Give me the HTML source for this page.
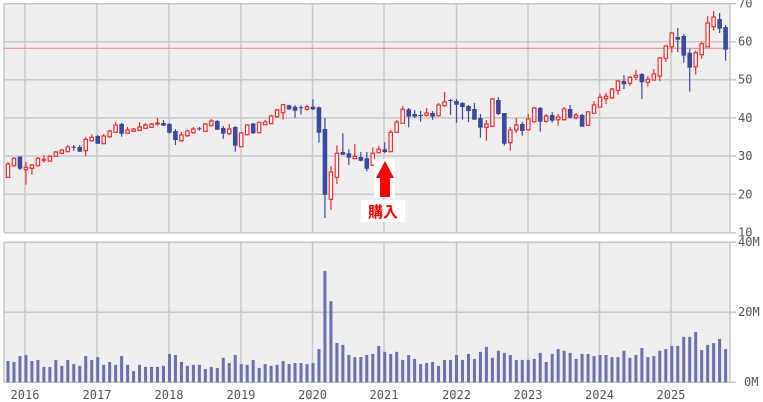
<!DOCTYPE html>
<html><head><meta charset="utf-8"><style>
html,body{margin:0;padding:0;background:#fff;width:763px;height:402px;overflow:hidden}
svg{display:block}
text{font-family:"DejaVu Sans Mono","Liberation Mono",monospace;font-size:12px;fill:#555}
</style></head><body>
<svg id="c" width="763" height="402" xmlns="http://www.w3.org/2000/svg">
<rect x="4" y="3.7" width="726" height="229" fill="#efefef"/>
<rect x="4" y="242.3" width="726" height="140" fill="#efefef"/>
<g id="grid" stroke="#c8c8c8" stroke-width="1.5" fill="none"></g>
<line x1="4" y1="48.3" x2="730" y2="48.3" stroke="#ff8080" stroke-width="1"/>
<g id="vol" fill="#6a70b0"></g>
<g id="cdl"></g>
<g id="lab"></g>
<rect x="374" y="159" width="21" height="39" fill="#fff"/>
<polygon points="385,161 394,178 390,178 390,197 380,197 380,178 376,178" fill="#f00"/>
<rect x="361" y="200" width="44" height="22" fill="#fff"/>
<text x="383" y="217" text-anchor="middle" style="font-family:'Liberation Sans','Noto Sans CJK JP',sans-serif;font-size:15px;font-weight:bold;fill:#f00">購入</text>
</svg>
<script>
var NS="http://www.w3.org/2000/svg";
function el(p,t,a,txt){var e=document.createElementNS(NS,t);for(var k in a)e.setAttribute(k,a[k]);if(txt)e.textContent=txt;p.appendChild(e);return e;}
var g=document.getElementById('grid');
var yrs=[25,97,169,241,312.5,384,456.5,528,599.5,671];
yrs.forEach(function(x){el(g,'line',{x1:x,y1:3.7,x2:x,y2:232.7});el(g,'line',{x1:x,y1:242.3,x2:x,y2:382.3});});
[3.7,41.7,79.7,117.9,156,194.3,232.7].forEach(function(y){el(g,'line',{x1:4,y1:y,x2:736,y2:y});});
[242.3,312.3,382.3].forEach(function(y){el(g,'line',{x1:4,y1:y,x2:736,y2:y});});
el(g,'line',{x1:4,y1:3.7,x2:4,y2:232.7});el(g,'line',{x1:730,y1:3.7,x2:730,y2:232.7});
el(g,'line',{x1:4,y1:242.3,x2:4,y2:382.3});el(g,'line',{x1:730,y1:242.3,x2:730,y2:382.3});
var lab=document.getElementById('lab');
var pl=[[70,3.7],[60,41.7],[50,79.7],[40,117.9],[30,156],[20,194.3],[10,232.7]];
pl.forEach(function(p){el(lab,'text',{x:738,y:p[1]+4},String(p[0]));});
el(lab,'text',{x:738,y:246},'40M');el(lab,'text',{x:738,y:316},'20M');el(lab,'text',{x:744,y:386},'0M');
var yl=['2016','2017','2018','2019','2020','2021','2022','2023','2024','2025'];
yrs.forEach(function(x,i){el(lab,'text',{x:x,y:399,'text-anchor':'middle'},yl[i]);});
var V=[6.1,5.8,7.5,7.8,6.1,6.4,4.4,4.4,6.4,4.7,6.4,5.2,4.7,7.5,6.4,7.2,5.0,5.8,5.0,7.5,5.0,3.2,5.0,4.4,4.4,4.4,4.7,8.1,7.8,5.8,4.7,5.0,5.0,3.8,4.4,4.1,7.0,5.5,7.8,5.2,5.0,6.4,4.1,5.2,4.7,5.0,6.1,5.2,5.5,5.5,5.2,5.5,9.5,31.8,23.2,11.2,10.7,7.8,7.2,7.2,7.8,8.1,10.4,
8.7,8.1,8.7,6.4,7.8,6.7,5.2,5.5,5.8,4.7,6.4,6.4,7.8,6.4,8.1,6.7,8.7,10.1,7.0,9.0,8.4,7.8,6.4,6.4,6.4,6.7,8.4,5.8,8.1,9.5,9.0,8.4,6.7,8.1,8.1,7.5,7.8,7.8,7.2,7.2,9.0,7.0,7.8,9.8,7.2,7.5,9.0,9.5,10.4,10.4,13.0,13.0,14.4,9.2,10.7,11.2,12.4,9.5];
var vg=document.getElementById('vol');
V.forEach(function(v,i){var x=8+5.98*i;var h=v*3.5;el(vg,'rect',{x:x-1.5,y:382.3-h,width:3,height:h});});
// [bodyTop, bodyBot, wickTop, wickBot, up]
var C=[[164,177.3,162,177.3,1],[158.3,165.7,157.3,166.7,1],[156.7,168.7,156,170,0],[167.3,169.7,162,184.7,1],[165,168.3,164,174.7,1],[158.3,165.7,157,166.7,1],[159.3,160,155,162.7,1],[156.3,161,155,161.7,1],[152,156.3,151,156.7,1],[150,153.3,149,154,1],[147,151.7,145,152,1],[146.7,147.3,145,150.7,0],[147,151.7,145,152,0],[139.3,150.7,136.7,156,1],[137.3,140.7,134.3,141.7,1],[136,143.7,135,144,0],[136,143.7,134,144,1],[131,136.7,130,138,1],[125,132.3,122,132.7,1],[124,133.7,123,136.7,0],[130,133.3,127,134,1],[129,131.3,128,131.7,1],[127,130.3,122,131,1],[125,128.3,123,129,1],[124,127.3,123,128,1],[123,124,118,125.7,1],[123,125.7,120,126,0],[124,132.7,123,133.7,0],[131,140,129,145,0],[135,140.7,132,142,1],[131,135.7,129.7,137,1],[129,132.7,127,133.7,1],[128.3,129,127,130.7,0],[124,131.3,123,131.7,1],[121,125.7,119,126,1],[121,129.7,120,130,0],[128,133.7,126,138.7,0],[129,133.7,124,135,1],[127,145.7,126,151.7,0],[133,146.7,132,147,1],[125,134.7,124,135,1],[123.5,133.3,123,134,0],[122.3,132.7,122,133,1],[122,124.7,120,125,1],[116,123.7,114.7,124,1],[110,116.7,108.7,118,1],[104.7,112.7,104,119.7,1],[105.3,109.3,104.7,110,0],[106.7,110.7,105.3,117.7,0],[107.3,108,105.3,114.7,0],[106.7,109.3,104.7,110.7,1],[106.7,109.3,99.3,110,0],[107.3,132.7,106.7,142.7,0],[129,194.7,118,218,0],[172,199.3,166,210,1],[153.3,177.3,145.3,184,1],[152,154.7,133.3,155,0],[153.3,157.7,149.3,165,0],[156.3,158.7,144,159,1],[157,160.7,152,161.3,0],[158.3,168.7,152,171.3,0],[153.3,165.3,147.3,165.7,1],[149.3,152.7,146,153.3,1],[149.3,152,142.3,153,0],[132.3,151.7,130,152,1],[122,132.3,120,133,1],[109.3,123.3,106,123.7,1],[109.3,116.7,108,127.3,0],[114,116.7,110,118,0],[115,115.7,111,121.7,0],[113,115.3,108,116.7,1],[113,116.7,111,119.7,0],[105,115.7,103,116.7,1],[102,105.7,92,106.7,1],[100,101,99,115,0],[101,104.7,99,122.7,0],[103,107,102,119.7,0],[106,111,105,122,0],[109,119.7,103,119.7,0],[118,127.7,114,137.7,0],[124,127.3,120,140.7,1],[99,126.3,98,126.7,1],[100,114,97,115,0],[113,143.7,113,145.7,0],[130,142.7,127,150.7,1],[125,130,118,133,1],[124,131,122,135.7,0],[119,129.7,114,130.7,1],[108,121.7,107,122.7,1],[108,121.7,107,131.7,0],[116,121.3,114,122.7,1],[115,120.7,112,122.7,0],[117,119.7,114,125.7,1],[109,119.7,107,120.7,1],[109,117.7,105,118.7,0],[115,117.7,113,119.7,1],[115,126.7,114,126.7,0],[112,125.3,111,125.7,1],[105,113.3,101,114,1],[97.3,107,94,107.7,1],[96.3,98.7,93,104,1],[89,98,88,99,1],[81,90.3,80,95,1],[81,84.3,75,89,0],[77.3,83.3,76,85.7,1],[75.3,77.3,70,80,1],[74,82.3,73,99,0],[79.3,82.3,76,86.7,1],[74,80,69,80.3,1],[58,76,57,81.3,1],[46,58.3,45,62,1],[33,46.7,32,52.7,1],[37,39.7,28,52,0],[36,55.7,34,62.7,0],[52.7,67.7,48.7,91.7,0],[52.7,66.7,50.7,74.7,1],[43.7,54.7,41.7,58.7,1],[23,46.7,16,47,1],[17,26.7,11,30.7,1],[19,28.7,13,33,0],[27,49.7,25,60.7,0]];
var cg=document.getElementById('cdl');
C.forEach(function(c,i){var x=8+5.98*i;var col=c[4]?'#ff2a2a':'#3a48a0';
el(cg,'line',{x1:x,y1:c[2],x2:x,y2:c[3],stroke:col,'stroke-width':1.2});
var h=Math.max(c[1]-c[0],1);
if(c[4])el(cg,'rect',{x:x-1.7,y:c[0],width:3.4,height:h,fill:'#fff',stroke:col,'stroke-width':1.2});
else el(cg,'rect',{x:x-2.3,y:c[0],width:4.6,height:h,fill:col});});
</script>
</body></html>
